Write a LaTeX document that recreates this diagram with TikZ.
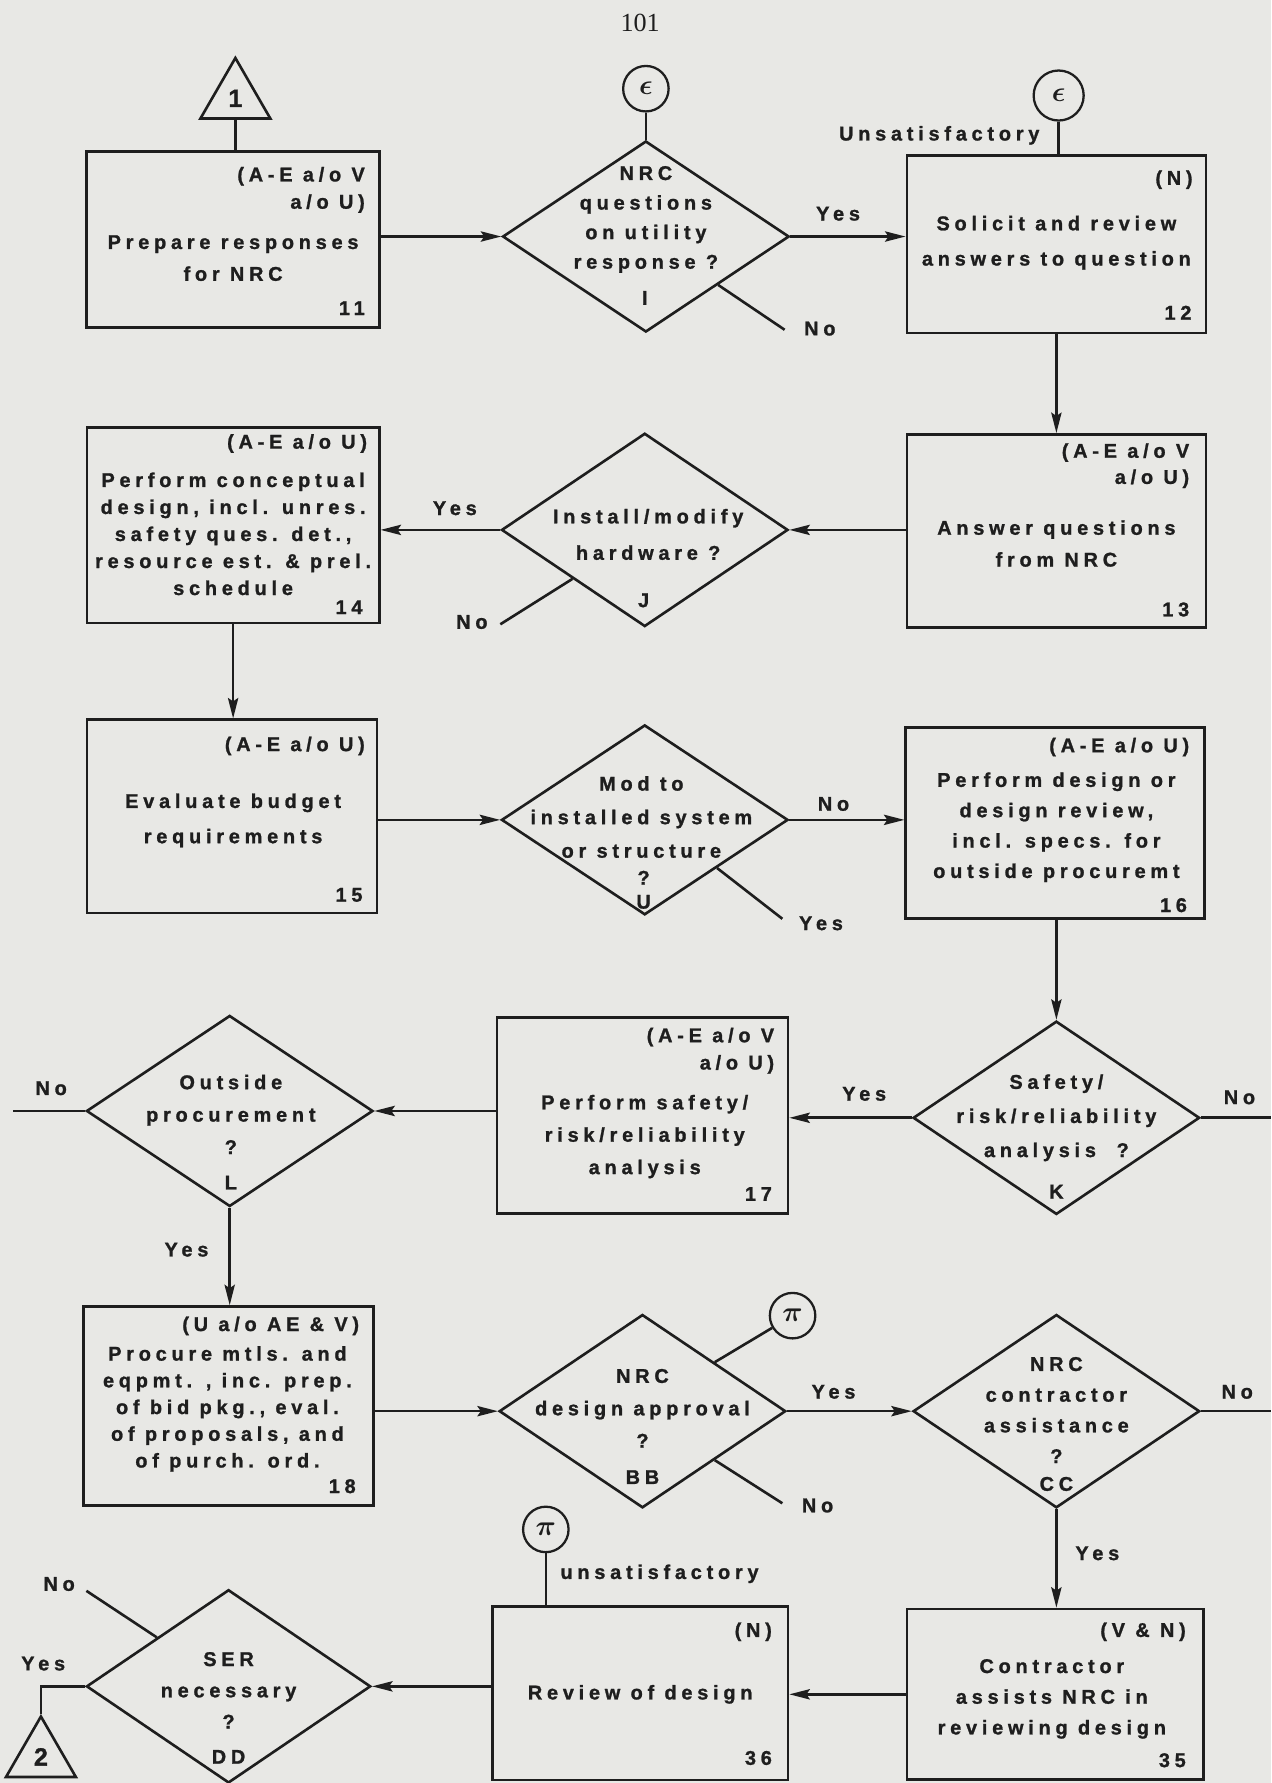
\documentclass[tikz,border=0pt]{standalone}
\usepackage{fontspec}
\newfontfamily\lblfont{Liberation Sans}[LetterSpace=24,BoldFeatures={FakeBold=1.2}]
\newfontfamily\pagenumfont{Liberation Serif}
\usetikzlibrary{shapes.geometric,arrows.meta}
\definecolor{paper}{RGB}{232,232,229}
\definecolor{ink}{RGB}{30,30,30}
\begin{document}
\begin{tikzpicture}[x=1pt,y=-1pt,
 ln/.style={draw=ink,line width=2.3pt},
 arr/.style={ln,-{Stealth[length=18pt,width=9pt,inset=3pt]}},
 box/.style={draw=ink,line width=2.3pt,rectangle,inner sep=0pt},
 dia/.style={draw=ink,line width=2.3pt,diamond,inner sep=0pt,minimum width=252pt,minimum height=168pt},
 circ/.style={draw=ink,line width=2pt,circle,inner sep=0pt,minimum size=40pt,font=\boldmath\fontsize{27}{27}\selectfont,text=ink},
 tri/.style={draw=ink,line width=2.3pt,regular polygon,regular polygon sides=3,inner sep=0pt,minimum size=71pt,font=\lblfont\bfseries\fontsize{22}{22}\selectfont,text=ink},
 tx/.style={text=ink,inner sep=0pt,align=center,font=\lblfont\bfseries\fontsize{17.5}{#1}\selectfont},
 tx/.default=24,
 rt/.style={tx=#1,align=right,anchor=east},
 rt/.default=24,
]
\fill[paper] (0,0) rectangle (1118,1568);
\useasboundingbox (0,0) rectangle (1118,1568);

\node[tx,font=\pagenumfont\fontsize{23}{23}\selectfont] (pg) at (563,20) {101};

% ---------- shapes ----------
\node[tri] (t1) at (207,86.5) {1};
\node[box,minimum width=258pt,minimum height=155pt] (b11) at (205,210.5) {};
\node[dia] (dI) at (568,208) {};
\node[circ] (e1) at (568,78) {$\epsilon$};
\node[circ,minimum size=44pt] (e2) at (931,84) {$\epsilon$};
\node[box,minimum width=263pt,minimum height=156pt] (b12) at (929,215) {};
\node[box,minimum width=263pt,minimum height=170pt] (b13) at (929,467) {};
\node[dia,minimum height=170pt] (dJ) at (567,466) {};
\node[box,minimum width=257pt,minimum height=172pt] (b14) at (205,462) {};
\node[box,minimum width=255pt,minimum height=170pt] (b15) at (204,718) {};
\node[dia,minimum height=167pt] (dU) at (567,721) {};
\node[box,minimum width=263pt,minimum height=168pt] (b16) at (928,724) {};
\node[dia,minimum height=170pt] (dK) at (929,983) {};
\node[box,minimum width=256pt,minimum height=172pt] (b17) at (565,981) {};
\node[dia] (dL) at (202,977) {};
\node[box,minimum width=255pt,minimum height=175pt] (b18) at (201,1236.5) {};
\node[dia,minimum height=170pt] (dBB) at (565,1241) {};
\node[circ] (p1) at (697,1157) {$\pi$};
\node[dia,minimum height=170pt] (dCC) at (929,1241) {};
\node[box,minimum width=261pt,minimum height=150pt] (b35) at (928,1490) {};
\node[box,minimum width=260pt,minimum height=153pt] (b36) at (563,1489) {};
\node[circ] (p2) at (480,1345) {$\pi$};
\node[dia,minimum width=250pt,minimum height=170pt] (dDD) at (201,1483) {};
\node[tri] (t2) at (36,1545) {2};

% ---------- connectors ----------
\draw[ln] (t1.south) -- (t1.south |- b11.north);
\draw[arr] (b11.east |- dI.west) -- (dI.west);
\draw[ln] (e1.south) -- (dI.north);
\coordinate (iNo) at (690,290);
\draw[ln] (dI.south east) -- (iNo);
\draw[arr] (dI.east) -- (dI.east -| b12.west);
\draw[ln] (e2.south) -- (e2.south |- b12.north);
\draw[arr] (b12.south) -- (b13.north);
\draw[arr] (b13.west |- dJ.east) -- (dJ.east);
\draw[arr] (dJ.west) -- (dJ.west -| b14.east);
\coordinate (jNo) at (440,549);
\draw[ln] (dJ.south west) -- (jNo);
\draw[arr] (b14.south) -- (b14.south |- b15.north);
\draw[arr] (b15.east |- dU.west) -- (dU.west);
\draw[arr] (dU.east) -- (dU.east -| b16.west);
\coordinate (uYes) at (688,808);
\draw[ln] (dU.south east) -- (uYes);
\draw[arr] (dK.north |- b16.south) -- (dK.north);
\coordinate (kNo) at (1118,983);
\draw[ln] (dK.east) -- (kNo);
\draw[arr] (dK.west) -- (dK.west -| b17.east);
\draw[arr] (b17.west |- dL.east) -- (dL.east);
\coordinate (lNo) at (11,977);
\draw[ln] (dL.west) -- (lNo);
\draw[arr] (dL.south) -- (dL.south |- b18.north);
\draw[arr] (b18.east |- dBB.west) -- (dBB.west);
\draw[ln] (dBB.north east) -- (p1);
\draw[arr] (dBB.east) -- (dCC.west);
\coordinate (bbNo) at (688,1322);
\draw[ln] (dBB.south east) -- (bbNo);
\coordinate (ccNo) at (1118,1241);
\draw[ln] (dCC.east) -- (ccNo);
\draw[arr] (dCC.south) -- (dCC.south |- b35.north);
\draw[arr] (b35.west) -- (b35.west -| b36.east);
\draw[ln] (p2.south) -- (p2.south |- b36.north);
\draw[arr] (b36.west |- dDD.east) -- (dDD.east);
\coordinate (ddNo) at (76,1399);
\draw[ln] (dDD.north west) -- (ddNo);
\draw[ln] (dDD.west) -| (t2.north);

% ---------- texts ----------
% box 11
\node[rt] (b11r) at (321,167) {(A-E a/o V\\a/o U)};
\node[tx=28] (b11m) at (205,227) {Prepare responses\\for NRC};
\node[rt] (b11n) at (321,271) {11};
% diamond I
\node[tx=26] (dIm) at (568,193) {NRC\\questions\\on utility\\response ?};
\node[tx] (dIl) at (567,262) {I};
\node[tx] (lIyes) at (737,188) {Yes};
\node[tx] (lIno) at (721,289) {No};
% box 12
\node[tx] (lUns) at (826,119) {Unsatisfactory};
\node[rt] (b12r) at (1049,158) {(N)};
\node[tx=31] (b12m) at (929,213.5) {Solicit and review\\answers to question};
\node[rt] (b12n) at (1048,275) {12};
% box 13
\node[rt=23] (b13r) at (1046,409.5) {(A-E a/o V\\a/o U)};
\node[tx=28] (b13m) at (929,478) {Answer questions\\from NRC};
\node[rt] (b13n) at (1046,536) {13};
% diamond J
\node[tx=32] (dJm) at (570,470) {Install/modify\\hardware ?};
\node[tx] (dJl) at (566,528) {J};
\node[tx] (lJyes) at (400,447) {Yes};
\node[tx] (lJno) at (415,547) {No};
% box 14
\node[rt] (b14r) at (323,390) {(A-E a/o U)};
\node[tx=23.75] (b14m) at (205,469.5) {Perform conceptual\\design, incl. unres.\\safety ques. det.,\\resource est. \& prel.\\schedule};
\node[rt] (b14n) at (319,534) {14};
% box 15
\node[rt] (b15r) at (321,656) {(A-E a/o U)};
\node[tx=31] (b15m) at (205,721.5) {Evaluate budget\\requirements};
\node[rt] (b15n) at (319,787) {15};
% diamond U
\node[tx=29.5] (dUm) at (564,718.5) {Mod to\\installed system\\or structure};
\node[tx=21] (dUl) at (566,782.5) {?\\U};
\node[tx] (lUno) at (733,707) {No};
\node[tx] (lUyes) at (722,812) {Yes};
% box 16
\node[rt] (b16r) at (1046,657) {(A-E a/o U)};
\node[tx=26.7] (b16m) at (929,727.5) {Perform design or\\design review,\\incl. specs. for\\outside procuremt};
\node[rt] (b16n) at (1044,796) {16};
% diamond K
\node[tx=30] (dKm) at (929,983) {Safety/\\risk/reliability\\analysis\ \ ?};
\node[tx] (dKl) at (929,1048) {K};
\node[tx] (lKno) at (1090,965) {No};
\node[tx] (lKyes) at (760,962) {Yes};
% box 17
\node[rt] (b17r) at (681,924) {(A-E a/o V\\a/o U)};
\node[tx=28.5] (b17m) at (567,999.5) {Perform safety/\\risk/reliability\\analysis};
\node[rt] (b17n) at (679,1050) {17};
% diamond L
\node[tx=28.5] (dLm) at (203,980) {Outside\\procurement\\?};
\node[tx] (dLl) at (203,1040) {L};
\node[tx] (lLno) at (45,957) {No};
\node[tx] (lLyes) at (164,1099) {Yes};
% box 18
\node[rt] (b18r) at (316,1166) {(U a/o AE \& V)};
\node[tx=23.5] (b18m) at (200,1239) {Procure mtls. and\\eqpmt. , inc. prep.\\of bid pkg., eval.\\of proposals, and\\of purch. ord.};
\node[rt] (b18n) at (313,1307) {18};
% diamond BB
\node[tx=28.5] (dBBm) at (565,1238.5) {NRC\\design approval\\?};
\node[tx] (dBBl) at (565,1299) {BB};
\node[tx] (lBByes) at (733,1224) {Yes};
\node[tx] (lBBno) at (719,1324) {No};
% diamond CC
\node[tx=27] (dCCm) at (929,1240) {NRC\\contractor\\assistance\\?};
\node[tx] (dCCl) at (929,1305) {CC};
\node[tx] (lCCno) at (1088,1224) {No};
\node[tx] (lCCyes) at (965,1366) {Yes};
% box 35
\node[rt] (b35r) at (1043,1435) {(V \& N)};
\node[tx=27] (b35m) at (925,1494) {Contractor\\assists NRC in\\reviewing design};
\node[rt] (b35n) at (1043,1548) {35};
% box 36
\node[tx] (lunsat) at (580,1384) {unsatisfactory};
\node[rt] (b36r) at (679,1435) {(N)};
\node[tx] (b36m) at (563,1490) {Review of design};
\node[rt] (b36n) at (679,1546) {36};
% diamond DD
\node[tx=27.5] (dDDm) at (201,1486.5) {SER\\necessary\\?};
\node[tx] (dDDl) at (201,1545) {DD};
\node[tx] (lDDno) at (52,1393) {No};
\node[tx] (lDDyes) at (38,1463) {Yes};
\end{tikzpicture}
\end{document}
